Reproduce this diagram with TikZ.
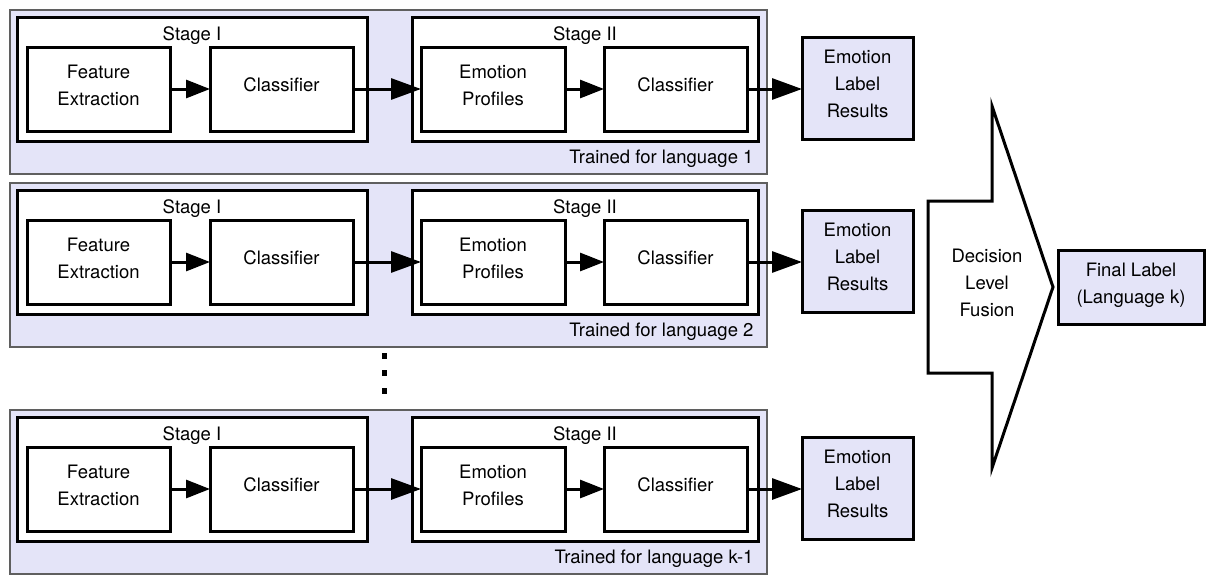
\documentclass[tikz,border=0pt]{standalone}
\usepackage{fontspec}
\setmainfont{TeX Gyre Heros}
\usetikzlibrary{arrows.meta,positioning}

\definecolor{panelfill}{RGB}{228,228,248}
\definecolor{framegray}{RGB}{95,95,95}

\begin{document}
\begin{tikzpicture}[x=1pt, y=-1pt,
  font=\fontsize{18.5}{27}\selectfont,
  langframe/.style={rectangle, draw=framegray, line width=1.3pt, fill=panelfill, minimum width=757pt, minimum height=164pt, inner sep=0pt, outer sep=0pt},
  stagebox/.style={rectangle, draw, line width=3pt, fill=white, minimum width=350pt, minimum height=124pt, inner sep=0pt, outer sep=0pt},
  block/.style={rectangle, draw, line width=3pt, fill=white, align=center, minimum width=143pt, minimum height=84pt, inner sep=0pt, outer sep=0pt, text depth=8pt},
  result/.style={rectangle, draw, line width=3pt, fill=panelfill, align=center, minimum width=111pt, minimum height=102pt, inner sep=0pt, outer sep=0pt, text depth=8pt},
  flow/.style={line width=3pt, -{Triangle[length=24pt, width=18pt]}},
  longflow/.style={line width=3pt, -{Triangle[length=30pt, width=21pt]}}
]
  \useasboundingbox (0,0) rectangle (1208,574);

  % One trained system per language
  \foreach \r/\dy/\lang in {1/0/1, 2/173/2, 3/400/k-1} {
    \node[langframe] (frame\r) at (388.5, 92+\dy) {};
    \node[anchor=east] (trained\r) at (757, 159+\dy) {Trained for language \lang};
    % Stage I
    \node[stagebox] (stageA\r) at (192, 79+\dy) {};
    \node (stageAtitle\r) at (192, 36+\dy) {Stage I};
    \node[block] (feat\r) at (98.5, 89+\dy) {Feature\\Extraction};
    \node[block, right=40pt of feat\r] (clsA\r) {Classifier};
    % Stage II
    \node[stagebox, minimum width=346pt] (stageB\r) at (585, 79+\dy) {};
    \node (stageBtitle\r) at (585, 36+\dy) {Stage II};
    \node[block, minimum width=144pt] (prof\r) at (493, 89+\dy) {Emotion\\Profiles};
    \node[block, right=39pt of prof\r] (clsB\r) {Classifier};
    % Output of this language
    \node[result] (res\r) at (857.5, 88+\dy) {Emotion\\Label\\Results};
    \draw[flow] (feat\r) -- (clsA\r);
    \draw[longflow] (clsA\r) -- (prof\r);
    \draw[flow] (prof\r) -- (clsB\r);
    \draw[longflow] (clsB\r.east) -- (res\r.west |- clsB\r.east);
  }

  % Vertical dots between language 2 and k-1
  \foreach \y in {356,373,391}
    \fill (382,\y-3) rectangle (387,\y+3);

  % Fusion arrow
  \draw[line width=3pt, fill=white, line join=miter]
    (928,201) -- (992,201) -- (992,106) -- (1053,287) -- (992,468)
    -- (992,373) -- (928,373) -- cycle;
  \node[align=center] (fusion) at (987,283) {Decision\\Level\\Fusion};

  \node[result, minimum width=146pt, minimum height=74pt] (final) at (1131,287) {Final Label\\(Language k)};
\end{tikzpicture}
\end{document}
